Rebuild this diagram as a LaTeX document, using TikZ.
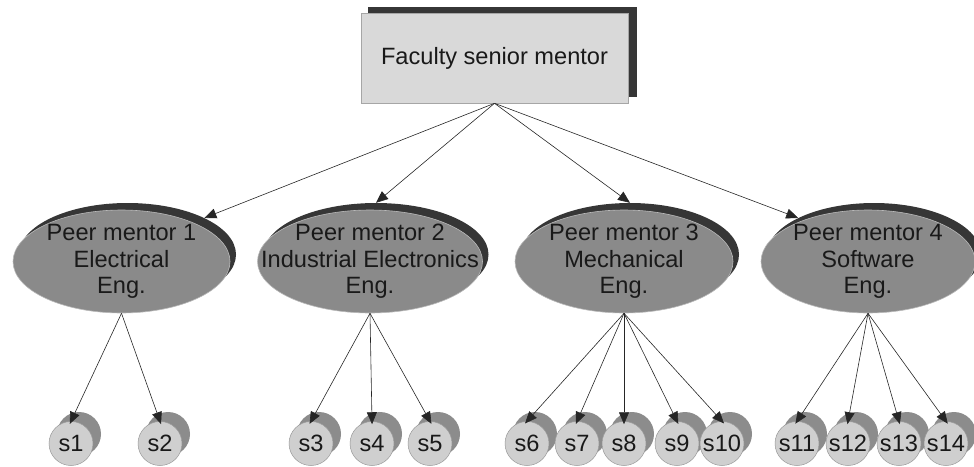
\documentclass[tikz,border=0pt]{standalone}
\usepackage{fontspec}
\setmainfont{Liberation Sans}
\usetikzlibrary{arrows.meta,shapes.geometric}
\definecolor{boxfill}{HTML}{D9D9D9}
\definecolor{darkshade}{HTML}{363636}
\definecolor{pmfill}{HTML}{8A8A8A}
\definecolor{stfill}{HTML}{CFCFCF}
\definecolor{stshade}{HTML}{8C8C8C}
\begin{document}
\begin{tikzpicture}[x=1pt,y=-1pt,
  lbl/.style={font=\fontsize{23.6}{26.5}\selectfont, align=center, inner sep=0, text=black!90},
  boxfront/.style={rectangle, draw=gray!70, line width=0.6pt, fill=boxfill, minimum width=267pt, minimum height=90pt, inner sep=0},
  boxshadow/.style={rectangle, fill=darkshade, minimum width=269pt, minimum height=90pt, inner sep=0},
  pmfront/.style={ellipse, draw=gray!55, line width=0.6pt, fill=pmfill, minimum height=103pt, inner sep=0},
  pmshadow/.style={ellipse, fill=darkshade, minimum height=103pt, inner sep=0},
  stfront/.style={circle, draw=gray!80, line width=0.5pt, fill=stfill, minimum size=44pt, inner sep=0},
  stshadow/.style={circle, fill=stshade, minimum size=44pt, inner sep=0},
  conn/.style={draw=black!85, line width=0.6pt, -{Triangle[length=12pt,width=10pt]}}]
\useasboundingbox (0,0) rectangle (974,466);

% top box
\node[boxshadow] (tops) at (502.5,51.5) {};
\node[boxfront] (top) at (494.5,58) {};
\node[lbl] (topt) at (top) {Faculty senior mentor};

% peer mentors
\node[pmshadow, minimum width=217pt] (pm1s) at (127.5,254.5) {};
\node[pmfront, minimum width=217pt] (pm1) at (121.5,261.5) {};
\node[lbl] (pm1t) at (pm1) {Peer mentor 1\\Electrical\\Eng.};

\node[pmshadow, minimum width=225pt] (pm2s) at (376,254.5) {};
\node[pmfront, minimum width=225pt] (pm2) at (370,261.5) {};
\node[lbl] (pm2t) at (pm2) {Peer mentor 2\\Industrial Electronics\\Eng.};

\node[pmshadow, minimum width=218pt] (pm3s) at (630,254.5) {};
\node[pmfront, minimum width=218pt] (pm3) at (624,261.5) {};
\node[lbl] (pm3t) at (pm3) {Peer mentor 3\\Mechanical\\Eng.};

\node[pmshadow, minimum width=214pt] (pm4s) at (874,254.5) {};
\node[pmfront, minimum width=214pt] (pm4) at (868,261.5) {};
\node[lbl] (pm4t) at (pm4) {Peer mentor 4\\Software\\Eng.};

% students
\foreach \n/\x in {1/71,2/160,3/311,4/372,5/430,6/527,7/577,8/624,9/677,10/722,11/797,12/848,13/899,14/946}{
  \node[stshadow] (s\n s) at (\x+8,434) {};
  \node[stfront] (s\n) at (\x,443.5) {};
  \node[lbl] (s\n t) at (s\n) {s\n};
}

% connectors
\draw[conn] (top.south) -- (pm1s.north east);
\draw[conn] (top.south) -- (pm2s.north);
\draw[conn] (top.south) -- (pm3s.north);
\draw[conn] (top.south) -- (pm4s.north west);

\foreach \n in {1,2}{\draw[conn, shorten >=-3pt] (pm1.south) -- (s\n.north);}
\foreach \n in {3,4,5}{\draw[conn, shorten >=-3pt] (pm2.south) -- (s\n.north);}
\foreach \n in {6,7,8,9,10}{\draw[conn, shorten >=-3pt] (pm3.south) -- (s\n.north);}
\foreach \n in {11,12,13,14}{\draw[conn, shorten >=-3pt] (pm4.south) -- (s\n.north);}
\end{tikzpicture}
\end{document}
